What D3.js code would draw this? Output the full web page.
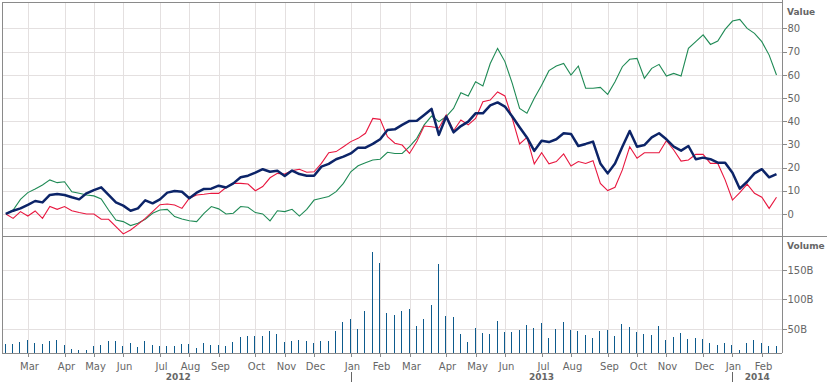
<!DOCTYPE html>
<html>
<head>
<meta charset="utf-8">
<script src="https://cdn.jsdelivr.net/npm/d3@7"></script>
<style>
  body { margin: 0; background: #fff; }
  svg text { font-family: "DejaVu Sans", Verdana, sans-serif; fill: #666; }
</style>
</head>
<body>
<div id="chart"></div>
<script>
// weekly points, one per Saturday from 11 Feb 2012 to 15 Feb 2014
const firstWeek = new Date(Date.UTC(2012, 1, 11));
const lastWeek = new Date(Date.UTC(2014, 1, 16));

// series values (% change)
const navySeries = [0, 1.4, 2.4, 3.9, 5.6, 5.0, 8.2, 8.6, 8.2, 7.2, 6.3, 8.9, 10.3, 11.5, 8.2, 5.0, 3.6, 1.4, 2.4, 5.9,
  4.6, 6.3, 9.2, 9.9, 9.6, 6.8, 9.2, 10.8, 10.9, 12.2, 11.4, 13.2, 15.8, 16.5, 17.8, 19.3, 18.2, 18.6, 16.4, 18.7,
  17.2, 16.5, 16.5, 20.4, 21.6, 23.6, 24.7, 26.1, 28.6, 28.6, 30.2, 32.2, 36.2, 36.5, 38.4, 40.1, 40.2, 42.7, 45.3, 34.1,
  42, 35.2, 37.9, 39.8, 43.4, 43.4, 46.8, 48.1, 46.3, 42, 37.4, 33, 27.2, 31.6, 31, 32.2, 34.8, 34.5, 29.3, 30.2,
  31.2, 21.8, 17.5, 21.8, 29, 35.8, 29, 29.7, 33, 34.8, 32.2, 29, 27.3, 29.3, 23.6, 24.3, 23.6, 22.1, 22.1, 17.8,
  10.9, 13.9, 17.5, 19.3, 15.8, 17.2];
const redSeries = [0, -1.9, 1, -0.9, 1.3, -1.9, 3.2, 2, 3.2, 1.4, 0.6, 0, 0, -2.3, -2.3, -5.5, -8.6, -6.9, -4.5, -1.9,
  1, 4, 4.3, 3.9, 2.4, 6.8, 8.2, 8.5, 8.9, 8.9, 11.4, 13.2, 13.2, 12.9, 10, 11.8, 15.6, 17.5, 17.2, 18.7,
  19.3, 18, 18.2, 21.8, 26.4, 26.9, 29, 31.2, 32.6, 34.8, 41.2, 40.8, 33.3, 30.5, 29.7, 26.1, 31.2, 37.9, 37.6, 37.1,
  42.7, 35.9, 40.5, 38.4, 41.2, 48.4, 49.1, 52.6, 50.9, 41.2, 30.2, 33, 21.6, 26.4, 21.6, 22.6, 25.9, 20.7, 22.6, 21.8,
  23, 13.2, 10.1, 11.5, 19, 29, 24, 26.4, 26.4, 26.4, 31.6, 27.6, 22.8, 23.3, 25.7, 25.7, 21.8, 21.8, 14.7, 6,
  9.2, 12.9, 8.9, 7.2, 2.4, 7.2];
const greenSeries = [0, 1.7, 6.3, 9.2, 10.8, 12.5, 14.7, 13.5, 13.9, 9.6, 8.9, 8.2, 7.8, 6.5, 1.7, -2.6, -3.3, -5, -4, -2.3,
  0.3, 1.7, 2, -1.1, -2.2, -2.9, -3.3, 0.3, 3.2, 2.2, 0, 0.3, 3.2, 2.9, 0.6, 0, -3, 1.4, 1, 2,
  -0.9, 2, 6, 6.8, 7.5, 9.6, 13.2, 18.2, 20.8, 22.1, 23.3, 23.6, 26.6, 26.1, 26.1, 29, 32.6, 38.4, 42.2, 39.8,
  42, 45.5, 52.3, 50.9, 57, 55.2, 64.9, 71.4, 65.7, 56.3, 45.5, 43.4, 49.9, 55.5, 61.8, 63.8, 64.9, 59.9, 63.8, 54.2,
  54.2, 54.6, 51.6, 57, 63.5, 66.7, 67.1, 58.5, 62.8, 64.5, 59.5, 60.6, 59.5, 71.4, 74.3, 77.2, 73.1, 74.6, 79.6, 83.2,
  83.9, 80, 77.9, 74.3, 68.5, 59.9];
// volume in billions
const volume = [25.1, 25.1, 27.9, 31.9, 26.8, 25.1, 30.2, 31.9, 23.4, 16.6, 14.9, 14.9, 21.7, 23.4, 30.2, 30.2, 21.7, 26.8, 20, 30.2,
  23.4, 21.7, 21.7, 21.7, 25.1, 25.1, 18.3, 26.8, 23.4, 23.4, 21.7, 28.5, 36.9, 38.6, 38.6, 38.6, 47.1, 42, 28.5, 30.2,
  31.9, 30.2, 26.8, 30.2, 30.2, 47.2, 62.4, 67.5, 50.5, 81, 181, 162.4, 77.7, 74.3, 81, 84.4, 55.6, 67.5, 91.2, 160.7,
  72.6, 70.9, 42.1, 28.5, 52.2, 43.8, 42.1, 64.1, 45.5, 45.5, 48.8, 57.3, 52.2, 60.7, 35.3, 50.5, 62.4, 48.8, 47.2, 40.4,
  35.3, 47.2, 48.8, 38.7, 59, 53.9, 45.5, 42.1, 40.4, 55.6, 31.9, 37, 43.8, 33.6, 35.3, 33.6, 26.8, 23.4, 26.8, 23.4,
  14.9, 26.8, 31.9, 26.8, 21.7, 21.7];

// axis tick values
const valueTicks = [0, 10, 20, 30, 40, 50, 60, 70, 80];
const volumeTicks = [50, 100, 150];

const dates = d3.utcSaturday.range(firstWeek, lastWeek);

const W = 830, H = 385;
const pLeft = 2, pRight = 782, pTop = 2, pMid = 236, pBottom = 353;

const svg = d3.select('#chart').append('svg')
  .attr('width', W)
  .attr('height', H);

// scales
const x = d3.scaleLinear().domain([0, dates.length - 1]).range([5.8, 776.5]);
const yVal = d3.scaleLinear().domain([-9.5, 91.4]).range([pMid, pTop]);
const yVol = d3.scaleLinear().domain([9.3, 207.6]).range([pBottom, pMid]);

// first week of each month
const monthIdx = dates.map((d, i) => i).filter(i => i > 0 && dates[i].getUTCMonth() !== dates[i - 1].getUTCMonth());
const janIdx = monthIdx.filter(i => dates[i].getUTCMonth() === 0);

// grid
const grid = svg.append('g').attr('shape-rendering', 'crispEdges').attr('stroke', '#e4e0e0');
grid.selectAll('.vg').data(monthIdx).enter().append('line')
  .attr('x1', d => Math.round(x(d)) + 0.5).attr('x2', d => Math.round(x(d)) + 0.5)
  .attr('y1', pTop).attr('y2', pBottom);
grid.selectAll('.hg').data(valueTicks.concat([-6])).enter().append('line')
  .attr('x1', pLeft).attr('x2', pRight)
  .attr('y1', d => Math.round(yVal(d)) + 0.5).attr('y2', d => Math.round(yVal(d)) + 0.5);
grid.selectAll('.hv').data(volumeTicks).enter().append('line')
  .attr('x1', pLeft).attr('x2', pRight)
  .attr('y1', d => Math.round(yVol(d)) + 0.5).attr('y2', d => Math.round(yVol(d)) + 0.5);

// volume bars
svg.append('g').selectAll('rect')
  .data(volume)
  .enter()
  .append('rect')
  .attr('x', (d, i) => Math.round(x(i)) - 1)
  .attr('y', d => yVol(d))
  .attr('width', 1.2)
  .attr('height', d => pBottom - yVol(d))
  .attr('fill', '#0d5a8c')
  .attr('shape-rendering', 'crispEdges');

// lines
const line = d3.line().x((d, i) => x(i)).y(d => yVal(d));
svg.append('path').datum(greenSeries).attr('d', line)
  .attr('fill', 'none').attr('stroke', '#1f8a55').attr('stroke-width', 1.1);
svg.append('path').datum(redSeries).attr('d', line)
  .attr('fill', 'none').attr('stroke', '#e8173f').attr('stroke-width', 1.1);
svg.append('path').datum(navySeries).attr('d', line)
  .attr('fill', 'none').attr('stroke', '#0c2468').attr('stroke-width', 2.5)
  .attr('stroke-linejoin', 'round');

// frame
const frame = svg.append('g').attr('stroke', '#8a8a8a').attr('shape-rendering', 'crispEdges');
frame.append('line').attr('x1', pLeft).attr('x2', pRight).attr('y1', pTop + 0.5).attr('y2', pTop + 0.5);
frame.append('line').attr('x1', pLeft + 0.5).attr('x2', pLeft + 0.5).attr('y1', pTop).attr('y2', pBottom);
frame.append('line').attr('x1', pLeft).attr('x2', pRight).attr('y1', pBottom + 0.5).attr('y2', pBottom + 0.5);
frame.append('line').attr('x1', pLeft).attr('x2', 827).attr('y1', pMid + 0.5).attr('y2', pMid + 0.5);
frame.append('line').attr('x1', pRight + 0.5).attr('x2', pRight + 0.5).attr('y1', 0).attr('y2', pBottom);

// right axes
const valAxis = svg.append('g')
  .attr('transform', `translate(${pRight + 0.5},0)`)
  .call(d3.axisRight(yVal).tickValues(valueTicks).tickSize(4).tickPadding(1));
const volAxis = svg.append('g')
  .attr('transform', `translate(${pRight + 0.5},0)`)
  .call(d3.axisRight(yVol).tickValues(volumeTicks).tickSize(4).tickPadding(1).tickFormat(d => d + 'B'));
[valAxis, volAxis].forEach(a => {
  a.select('.domain').remove();
  a.attr('font-family', null);
  a.selectAll('line').attr('stroke', '#8a8a8a').attr('shape-rendering', 'crispEdges');
  a.selectAll('text').attr('font-size', 10).attr('fill', '#666');
});

svg.append('text').attr('x', 787).attr('y', 15)
  .attr('font-size', 9).attr('font-weight', 'bold').text('Value');
svg.append('text').attr('x', 787).attr('y', 248.5)
  .attr('font-size', 9).attr('font-weight', 'bold').text('Volume');

// month axis
const xAxis = svg.append('g')
  .attr('transform', `translate(0,${pBottom + 0.5})`)
  .call(d3.axisBottom(x).tickValues(monthIdx).tickSize(3).tickPadding(6)
    .tickFormat(i => d3.utcFormat('%b')(dates[i])));
xAxis.select('.domain').remove();
xAxis.attr('font-family', null);
xAxis.selectAll('line').attr('stroke', '#8a8a8a').attr('shape-rendering', 'crispEdges');
xAxis.selectAll('.tick').attr('transform', d => `translate(${Math.round(x(d)) + 0.5},0)`);
xAxis.selectAll('text').attr('font-size', 10).attr('fill', '#666').attr('dx', 1);

// year labels and separators
const yearStarts = [0].concat(janIdx);
yearStarts.forEach((s, k) => {
  const x0 = x(s);
  const x1 = k + 1 < yearStarts.length ? x(yearStarts[k + 1]) : pRight;
  svg.append('text')
    .attr('x', (x0 + x1) / 2).attr('y', 380)
    .attr('text-anchor', 'middle')
    .attr('font-size', 9).attr('font-weight', 'bold')
    .text(dates[s].getUTCFullYear());
});
svg.selectAll('.sep').data(janIdx).enter().append('line')
  .attr('x1', d => Math.round(x(d)) + 0.5).attr('x2', d => Math.round(x(d)) + 0.5)
  .attr('y1', 372).attr('y2', 382)
  .attr('stroke', '#666').attr('shape-rendering', 'crispEdges');
</script>
</body>
</html>
